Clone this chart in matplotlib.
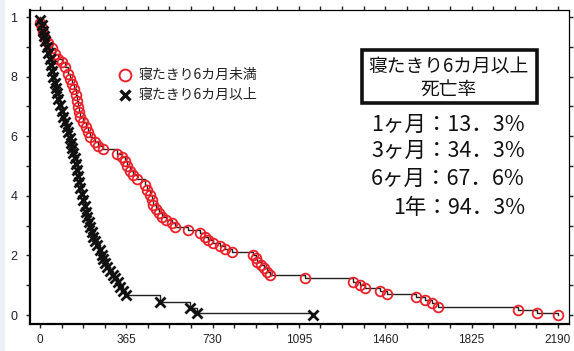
import matplotlib
matplotlib.use("Agg")
import matplotlib.pyplot as plt
from matplotlib.lines import Line2D
from matplotlib.patches import Rectangle

plt.rcParams['font.family'] = ['Noto Sans CJK JP', 'DejaVu Sans']

# ---- data (days, survival) ----
red_days = [0, 8, 13, 21, 34, 51, 63, 76, 93, 106, 118, 127, 135, 144, 152, 156, 161, 165, 169,
            182, 194, 203, 211, 233, 245, 266, 326, 347, 359, 368, 380, 393, 410, 444, 452, 465,
            474, 478, 490, 503, 516, 533, 558, 571, 626, 677, 698, 710, 732, 761, 782, 812, 901,
            913, 918, 934, 947, 960, 973, 1121, 1323, 1353, 1374, 1438, 1467, 1590, 1628, 1658,
            1683, 2021, 2102, 2190]
red_surv = [0.980, 0.963, 0.946, 0.930, 0.913, 0.896, 0.876, 0.859, 0.849, 0.832, 0.809, 0.792,
            0.775, 0.758, 0.738, 0.718, 0.698, 0.681, 0.664, 0.648, 0.631, 0.614, 0.597, 0.581,
            0.567, 0.557, 0.540, 0.530, 0.517, 0.500, 0.483, 0.470, 0.456, 0.436, 0.419, 0.403,
            0.386, 0.369, 0.356, 0.342, 0.329, 0.319, 0.309, 0.295, 0.285, 0.275, 0.262, 0.252,
            0.242, 0.232, 0.221, 0.211, 0.201, 0.191, 0.178, 0.168, 0.158, 0.144, 0.134, 0.124,
            0.111, 0.101, 0.091, 0.081, 0.070, 0.060, 0.050, 0.040, 0.027, 0.017, 0.007, 0.0]

black_days = [0, 8, 13, 17, 21, 30, 34, 42, 47, 51, 55, 63, 68, 72, 76, 85, 93, 97, 106, 114,
              118, 127, 131, 135, 140, 148, 152, 156, 161, 165, 169, 178, 182, 190, 194, 199,
              207, 211, 220, 224, 233, 241, 254, 262, 266, 275, 283, 296, 309, 317, 330, 338,
              351, 364, 507, 634, 664, 1154]
black_surv = [0.990, 0.973, 0.953, 0.936, 0.919, 0.899, 0.879, 0.859, 0.839, 0.819, 0.799,
              0.779, 0.762, 0.745, 0.725, 0.705, 0.685, 0.664, 0.648, 0.631, 0.614, 0.594,
              0.577, 0.560, 0.544, 0.527, 0.507, 0.487, 0.467, 0.446, 0.426, 0.406, 0.386,
              0.366, 0.346, 0.329, 0.312, 0.295, 0.279, 0.262, 0.248, 0.235, 0.218, 0.201,
              0.188, 0.174, 0.161, 0.148, 0.134, 0.124, 0.111, 0.094, 0.081, 0.067, 0.044,
              0.024, 0.007, 0.0]

x_ticks = [0, 365, 730, 1095, 1460, 1825, 2190]
x_ticklabels = ['0', '365', '730', '1095', '1460', '1825', '2190']
y_ticks = [0, 0.2, 0.4, 0.6, 0.8, 1.0]
y_ticklabels = ['0', '2', '4', '6', '8', '1']

legend_labels = ['寝たきり6カ月未満', '寝たきり6カ月以上']
box_title = ['寝たきり6カ月以上', '死亡率']
stats_lines = ['1ヶ月：13．3%', '3ヶ月：34．3%', '6ヶ月：67．6%', '1年：94．3%']

# ---- figure ----
W, H = 574, 351
fig = plt.figure(figsize=(W / 100, H / 100), dpi=100)
fig.patch.set_facecolor('white')
fig.patches.append(Rectangle((0, 0), 5 / W, 1, transform=fig.transFigure,
                             facecolor='#edf0f6', edgecolor='none', zorder=0))

ax = fig.add_axes([30 / W, 1 - 324 / H, (569 - 30) / W, (324 - 10) / H])
ax.set_xlim(-42, 2237)
ax.set_ylim(-0.030, 1.0235)

RED = '#e8222b'

ax.plot([0] + red_days, [1.0] + red_surv, drawstyle='steps-post', color='#222222', lw=1.0, zorder=2)
ax.plot([0] + black_days, [1.0] + black_surv, drawstyle='steps-post', color='#222222', lw=1.0, zorder=2)
ax.plot(red_days, red_surv, linestyle='none', marker='o', ms=7, mfc='none', mec=RED, mew=1.3, zorder=3)
ax.plot(black_days, black_surv, linestyle='none', marker='x', ms=7.5, mec='#111111', mew=2.0, zorder=3)

tick_font = ['Liberation Sans Narrow', 'Liberation Sans', 'DejaVu Sans']
ax.set_xticks(x_ticks)
ax.set_xticklabels(x_ticklabels, family=tick_font, fontsize=8.5, color='#222222')
ax.set_xticks([i * 91.25 for i in range(25)], minor=True)
ax.set_yticks(y_ticks)
ax.set_yticklabels(y_ticklabels, family=tick_font, fontsize=9, color='#222222')
ax.set_yticks([i * 0.1 for i in range(11)], minor=True)
ax.tick_params(which='both', direction='out', length=3, width=1, top=True, right=True,
               color='#222222')
ax.tick_params(axis='x', which='both', pad=4)
ax.tick_params(axis='y', which='both', pad=6)
for s in ['left', 'bottom']:
    ax.spines[s].set_linewidth(1.6)
for s in ['top', 'right']:
    ax.spines[s].set_linewidth(0.9)


def fx(px):
    return px / W


def fy(py):
    return 1 - py / H


# legend
fig.add_artist(Line2D([fx(125)], [fy(75)], marker='o', ms=8.5, mfc='none', mec=RED, mew=1.4,
                      linestyle='none', transform=fig.transFigure))
fig.add_artist(Line2D([fx(125)], [fy(95)], marker='x', ms=7, mec='#111111', mew=2.4,
                      linestyle='none', transform=fig.transFigure))
fig.text(fx(139), fy(75), legend_labels[0], fontsize=10, va='center', ha='left', color='#222222')
fig.text(fx(139), fy(95), legend_labels[1], fontsize=10, va='center', ha='left', color='#222222')

# box
fig.patches.append(Rectangle((fx(362), fy(103)), (537 - 362) / W, (103 - 50) / H,
                             transform=fig.transFigure, facecolor='white', edgecolor='#111111',
                             lw=2.6, zorder=5))
fig.text(fx(449), fy(67), box_title[0], fontsize=13.5, ha='center', va='center', color='#111111', zorder=6)
fig.text(fx(449), fy(89), box_title[1], fontsize=13.5, ha='center', va='center', color='#111111', zorder=6)

stat_y = [125, 151, 179, 208]
for t, yy in zip(stats_lines, stat_y):
    fig.text(fx(525), fy(yy), t, fontsize=15.5, ha='right', va='center', color='#111111')

fig.savefig('out.png', dpi=100)
